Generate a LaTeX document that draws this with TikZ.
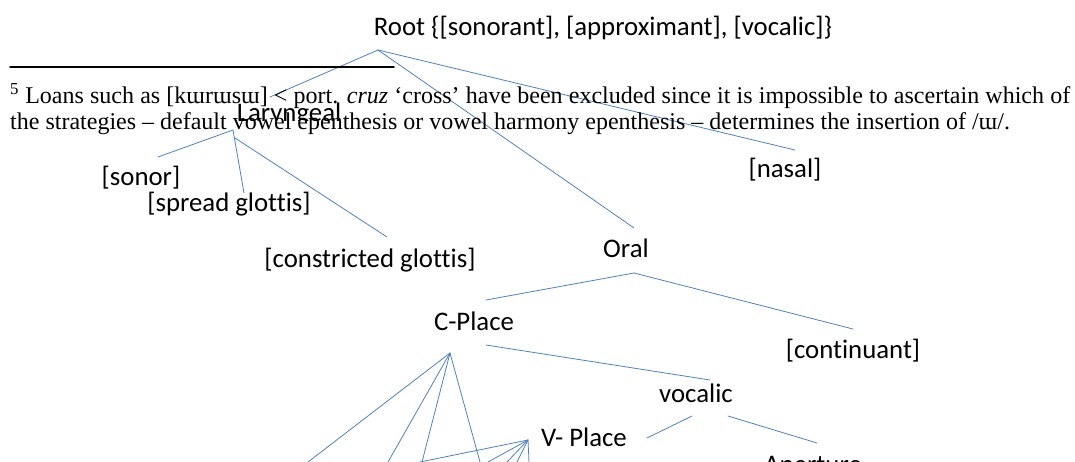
\documentclass[tikz,border=0pt]{standalone}
\usepackage{fontspec}
\setmainfont{Liberation Serif}
\newfontfamily\calibri[Ligatures=NoCommon]{Carlito}
\definecolor{treeblue}{HTML}{4F81BD}

\begin{document}
\begin{tikzpicture}[line cap=round,line join=round,x=1pt,y=-1pt,
  lbl/.style={font=\calibri\fontsize{26.8}{31}\selectfont,inner sep=0pt,anchor=base},
  branch/.style={color=treeblue,line width=0.8pt},
  fn/.style={font=\fontsize{24}{28}\selectfont,inner sep=0pt,anchor=base west}]
	\useasboundingbox (0,0) rectangle (1075,462);
	\clip (0,0) rectangle (1075,462);
	% tree labels
	\node[lbl] (root) at (603,36) {Root \{[sonorant], [approximant], [vocalic]\}};
	\begin{scope}
		\clip (225,95) rectangle (355,120.5);
		\node[lbl] (lar) at (289,122) {Laryngeal};
	\end{scope}
	\node[lbl] (nasal) at (785,178) {[nasal]};
	\node[lbl] (sonor) at (141,186) {[sonor]};
	\node[lbl] (spread) at (229,212) {[spread glottis]};
	\node[lbl] (constr) at (370,267) {[constricted glottis]};
	\node[lbl] (oral) at (626,258) {Oral};
	\node[lbl] (cplace) at (474,330) {C-Place};
	\node[lbl] (conti) at (853,358) {[continuant]};
	\node[lbl] (voc) at (696,402) {vocalic};
	\node[lbl] (vplace) at (584,446) {V- Place};
	\node[lbl] (apert) at (813,473) {Aperture};
	% branch ends
	\coordinate (rootfoot) at (378,50);
	\coordinate (larhead) at (270,97);
	\coordinate (oralhead) at (634,228);
	\coordinate (nasalhead) at (795,150);
	\coordinate (larfoot) at (233,130);
	\coordinate (larfootb) at (235,138);
	\coordinate (sonorhead) at (158,157);
	\coordinate (spreadhead) at (244,193);
	\coordinate (constrhead) at (387,237);
	\coordinate (oralfoot) at (634,273);
	\coordinate (cplacehead) at (486,300);
	\coordinate (contihead) at (853,329);
	\coordinate (cplacefoot) at (486,345);
	\coordinate (vochead) at (710,380);
	\coordinate (cplaceapex) at (450,353);
	\coordinate (vplaceapex) at (528,440);
	\coordinate (vocfoota) at (692,416);
	\coordinate (vplacehead) at (647,438);
	\coordinate (vocfootb) at (728,416);
	\coordinate (aperthead) at (817,443);
	\draw[branch] (rootfoot) -- (larhead);
	\draw[branch] (rootfoot) -- (oralhead);
	\draw[branch] (rootfoot) -- (nasalhead);
	\draw[branch] (larfoot) -- (sonorhead);
	\draw[branch] (larfoot) -- (spreadhead);
	\draw[branch] (larfootb) -- (constrhead);
	\draw[branch] (oralfoot) -- (cplacehead);
	\draw[branch] (oralfoot) -- (contihead);
	\draw[branch] (cplacefoot) -- (vochead);
	\draw[branch] (vocfoota) -- (vplacehead);
	\draw[branch] (vocfootb) -- (aperthead);
	% fans running off the page
	\foreach \x [count=\i] in {308,388,422,480}{
		\coordinate (cfan\i) at (\x,462);
		\draw[branch] (cplaceapex) -- (cfan\i);
	}
	\foreach \x [count=\i] in {420,488,507,517,529}{
		\coordinate (vfan\i) at (\x,462);
		\draw[branch] (vplaceapex) -- (vfan\i);
	}
	% footnote on top
	\draw[line width=1.8pt] (10,67) -- (394,67);
	\node[fn] (fnone) at (10,104) {\hbox to 1060pt{\textsuperscript{5} Loans such as [kɯrɯsɯ] < port. \textit{cruz} ‘cross’ have been excluded since it is impossible to ascertain which of}};
	\node[fn] (fntwo) at (10,130) {the strategies -- default vowel epenthesis or vowel harmony epenthesis -- determines the insertion of /ɯ/.};
\end{tikzpicture}
\end{document}
